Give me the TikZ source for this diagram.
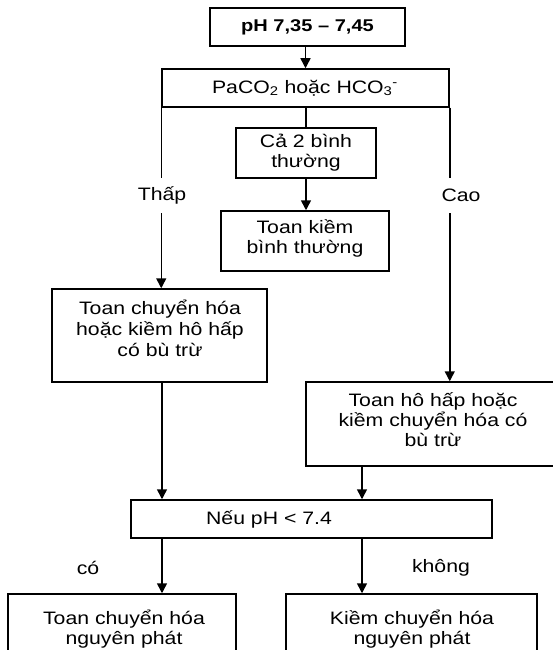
\documentclass[tikz,border=0pt]{standalone}
\usepackage{fontspec}
\setmainfont{Liberation Sans}[FakeStretch=1.18]
\usetikzlibrary{arrows.meta}
\begin{document}
\begin{tikzpicture}[x=1pt,y=-1pt,
  box/.style={draw, line width=1.5pt, inner sep=0pt},
  txt/.style={align=center, font=\fontsize{18}{20.5}\selectfont, inner sep=0pt},
  arr/.style={line width=1.5pt, -{Triangle[width=10pt,length=10pt]}},
  wire/.style={line width=1.5pt},
  gaplbl/.style={fill=white, font=\fontsize{18}{20.5}\selectfont, inner xsep=1pt, inner ysep=0pt, minimum height=35pt}]
\useasboundingbox (0,0) rectangle (553,650);
\clip (0,0) rectangle (553,650);

% columns used by the vertical connectors
\coordinate (colL) at (162,0);
\coordinate (colM) at (362,0);

% boxes
\node[box, minimum width=195pt, minimum height=38pt] (B1) at (307.5,27) {};
\node[box, minimum width=287pt, minimum height=38pt] (B2) at (305.5,88) {};
\node[box, minimum width=140pt, minimum height=50pt] (B4) at (306,153) {};
\node[box, minimum width=168pt, minimum height=60pt] (B5) at (305,241) {};
\node[box, minimum width=215pt, minimum height=93pt] (B6) at (159.5,335.5) {};
\node[box, minimum width=269pt, minimum height=84pt] (B7) at (440.5,424) {};
\node[box, minimum width=361pt, minimum height=38pt] (B8) at (311.5,519) {};
\node[box, minimum width=228pt, minimum height=66pt] (B9) at (122,627) {};
\node[box, minimum width=251pt, minimum height=66pt] (B10) at (411.5,627) {};

% box texts
\node[txt, font=\bfseries\fontsize{17}{20}\selectfont] (t1) at (307.5,27) {pH 7,35 – 7,45};
\node[txt] (t2) at (305,88) {PaCO\textsubscript{2} hoặc HCO\textsubscript{3}\textsuperscript{-}};
\node[txt, font=\fontsize{18}{20}\selectfont] (t4) at (306,153) {Cả 2 bình\\thường};
\node[txt, font=\fontsize{18}{20}\selectfont] (t5) at (305,238) {Toan kiềm\\bình thường};
\node[txt, font=\fontsize{18}{21}\selectfont] (t6) at (160,328) {Toan chuyển hóa\\hoặc kiềm hô hấp\\có bù trừ};
\node[txt, font=\fontsize{18}{20}\selectfont] (t7) at (433,420) {Toan hô hấp hoặc\\kiềm chuyển hóa có\\bù trừ};
\node[txt] (t8) at (269,519) {Nếu pH < 7.4};
\node[txt, font=\fontsize{18}{20}\selectfont] (t9) at (124,629) {Toan chuyển hóa\\nguyên phát};
\node[txt, font=\fontsize{18}{20}\selectfont] (t10) at (412,629) {Kiềm chuyển hóa\\nguyên phát};

% connectors
\draw[arr] (B1.south -| B2.north) -- (B2.north);
\draw[wire] (B4.north |- B2.south) -- (B4.north);
\draw[arr] (B4.south) -- (B4.south |- B5.north);
\draw[arr] (B2.south west) -- (B2.south west |- B6.north);
\draw[arr] (B2.south east) -- (B2.south east |- B7.north);
\draw[arr] (colL |- B6.south) -- (colL |- B8.north);
\draw[arr] (colM |- B7.south) -- (colM |- B8.north);
\draw[arr] (colL |- B8.south) -- (colL |- B9.north);
\draw[arr] (colM |- B8.south) -- (colM |- B10.north);

% branch labels
\node[gaplbl] (lThap) at (162,195.5) {Thấp};
\node[gaplbl] (lCao) at (461,195.5) {Cao};
\node[txt] (lCo) at (88,568) {có};
\node[txt] (lKhong) at (441,568) {không};
\end{tikzpicture}
\end{document}
